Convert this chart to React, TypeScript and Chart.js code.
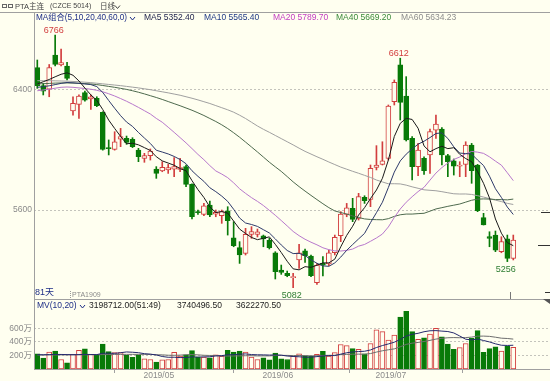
import React, { useEffect, useRef } from 'react';
import { Chart, registerables } from 'chart.js';

Chart.register(...registerables);

// ---------------- data ----------------
const dates: string[] = [
  '2019-03-28', '2019-03-29',
  '2019-04-01', '2019-04-02', '2019-04-03', '2019-04-04', '2019-04-08', '2019-04-09', '2019-04-10', '2019-04-11', '2019-04-12',
  '2019-04-15', '2019-04-16', '2019-04-17', '2019-04-18', '2019-04-19', '2019-04-22', '2019-04-23', '2019-04-24', '2019-04-25', '2019-04-26',
  '2019-04-29', '2019-04-30',
  '2019-05-06', '2019-05-07', '2019-05-08', '2019-05-09', '2019-05-10', '2019-05-13', '2019-05-14', '2019-05-15', '2019-05-16', '2019-05-17',
  '2019-05-20', '2019-05-21', '2019-05-22', '2019-05-23', '2019-05-24', '2019-05-27', '2019-05-28', '2019-05-29', '2019-05-30', '2019-05-31',
  '2019-06-03', '2019-06-04', '2019-06-05', '2019-06-06', '2019-06-10', '2019-06-11', '2019-06-12', '2019-06-13', '2019-06-14',
  '2019-06-17', '2019-06-18', '2019-06-19', '2019-06-20', '2019-06-21', '2019-06-24', '2019-06-25', '2019-06-26', '2019-06-27', '2019-06-28',
  '2019-07-01', '2019-07-02', '2019-07-03', '2019-07-04', '2019-07-05', '2019-07-08', '2019-07-09', '2019-07-10', '2019-07-11', '2019-07-12',
  '2019-07-15', '2019-07-16', '2019-07-17', '2019-07-18', '2019-07-19', '2019-07-22', '2019-07-23', '2019-07-24', '2019-07-25',
];

const opens: number[] = [
  6549, 6429, 6405, 6633, 6568, 6560, 6260, 6304, 6382, 6340,
  6344, 6251, 6011, 6004, 6073, 6078, 6071, 6000, 5944, 5962,
  5873, 5860, 5867, 5873, 5871, 5889, 5771, 5586, 5571, 5633,
  5573, 5562, 5595, 5415, 5349, 5311, 5438, 5438, 5427, 5398,
  5315, 5200, 5178, 5149, 5267, 5327, 5293, 5115, 5245, 5240,
  5315, 5429, 5571, 5611, 5544, 5684, 5671, 5884, 5904, 5944,
  6322, 6567, 6360, 6078, 5889, 5944, 5967, 6133, 6140, 5962,
  5927, 5893, 5904, 6033, 5900, 5549, 5422, 5433, 5322, 5407,
  5278,
];
const highs: number[] = [
  6600, 6444, 6570, 6766, 6673, 6584, 6355, 6367, 6393, 6367,
  6355, 6255, 6067, 6122, 6144, 6093, 6082, 6011, 5978, 6007,
  5889, 5922, 5904, 5949, 5944, 5900, 5775, 5600, 5644, 5660,
  5600, 5600, 5622, 5522, 5389, 5478, 5489, 5473, 5433, 5411,
  5322, 5233, 5193, 5178, 5371, 5340, 5300, 5244, 5290, 5333,
  5433, 5589, 5644, 5678, 5711, 5695, 5900, 6029, 6055, 6300,
  6467, 6612, 6489, 6089, 6044, 5955, 6140, 6233, 6149, 5971,
  5940, 5922, 6055, 6044, 5904, 5578, 5455, 5460, 5422, 5433,
  5433,
];
const lows: number[] = [
  6411, 6367, 6355, 6560, 6560, 6467, 6233, 6211, 6326, 6271,
  6289, 5999, 5967, 5999, 6022, 6038, 6016, 5922, 5918, 5933,
  5811, 5855, 5844, 5822, 5855, 5755, 5540, 5571, 5562, 5555,
  5555, 5511, 5433, 5355, 5244, 5300, 5411, 5420, 5355, 5340,
  5140, 5171, 5155, 5082, 5211, 5251, 5155, 5104, 5160, 5229,
  5300, 5389, 5555, 5522, 5533, 5644, 5622, 5867, 5900, 5933,
  6300, 6200, 6060, 5800, 5829, 5838, 5844, 6078, 5900, 5822,
  5833, 5822, 5822, 5778, 5589, 5500, 5355, 5322, 5315, 5256,
  5267,
];
const closes: number[] = [
  6429, 6393, 6549, 6571, 6582, 6478, 6311, 6360, 6333, 6355,
  6296, 6004, 6009, 6055, 6089, 6051, 6022, 5955, 5962, 5993,
  5844, 5884, 5882, 5889, 5882, 5771, 5555, 5582, 5627, 5567,
  5584, 5589, 5529, 5362, 5300, 5438, 5456, 5455, 5407, 5349,
  5189, 5184, 5162, 5155, 5315, 5295, 5162, 5233, 5233, 5315,
  5418, 5573, 5615, 5538, 5689, 5662, 5878, 5900, 5927, 6293,
  6451, 6318, 6067, 5889, 6000, 5862, 6122, 6173, 5967, 5922,
  5893, 5900, 6033, 5862, 5595, 5500, 5411, 5333, 5389, 5278,
  5400,
];
// volume, in 万手
const volumes: number[] = [
  225, 160, 250, 265, 140, 90, 215, 275, 295, 215,
  210, 365, 255, 240, 240, 200, 170, 210, 150, 140,
  100, 135, 140, 245, 190, 210, 270, 175, 175, 165,
  210, 185, 275, 250, 265, 250, 175, 140, 165, 135,
  235, 150, 140, 185, 225, 185, 185, 215, 260, 190,
  240, 360, 345, 300, 290, 225, 375, 575, 550, 425,
  500, 765, 850, 550, 435, 460, 515, 600, 475, 365,
  290, 315, 375, 450, 565, 245, 300, 325, 265, 335,
  320,
];

// moving-average values before each window is full
const ma5Head = [6440, 6455, 6470, 6488];
const ma10Head = [6418, 6422, 6428, 6436, 6444, 6450, 6448, 6444, 6440];
const ma20Head = [6395, 6400, 6405, 6412, 6418, 6420, 6418, 6414, 6410, 6405, 6398, 6388, 6375, 6360, 6343, 6325, 6305, 6284, 6262];
const ma40Head = [
  6440, 6442, 6444, 6446, 6447, 6447, 6446, 6445, 6443, 6440,
  6436, 6430, 6424, 6418, 6411, 6404, 6395, 6385, 6374, 6362,
  6350, 6337, 6323, 6309, 6295, 6280, 6265, 6248, 6230, 6210,
  6190, 6168, 6143, 6115, 6085, 6053, 6020, 5987, 5953,
];
const ma60Head = [
  6462, 6462, 6462, 6461, 6460, 6459, 6457, 6455, 6452, 6449,
  6445, 6441, 6437, 6433, 6429, 6424, 6419, 6414, 6408, 6402,
  6395, 6388, 6381, 6373, 6365, 6355, 6345, 6334, 6322, 6310,
  6296, 6282, 6268, 6252, 6232, 6210, 6185, 6160, 6138, 6118,
  6097, 6076, 6055, 6034, 6012, 5991, 5973, 5955, 5938, 5920,
  5903, 5886, 5872, 5858, 5845, 5831, 5817, 5800, 5787,
];
const mv10Head = [210, 210, 212, 214, 214, 212, 210, 212, 215];
const mv20Head = [205, 206, 207, 208, 208, 208, 209, 209, 210, 210, 211, 212, 213, 214, 215, 215, 215, 215, 215];

const priceTicks = [5600, 6400];
const volumeTicks = [200, 400, 600];
const axisMonths = ['2019/05', '2019/06', '2019/07'];
const highMarks = [3, 61];
const lowMarks = [43, 79];
const contractLabel = 'PTA1909';
const contractIndex = 5.5;
// short price markers on the right edge
const rightMarks = [5590, 5370];

const maLegend = [
  { text: 'MA5 5352.40', color: '#23264F' },
  { text: 'MA10 5565.40', color: '#203A86' },
  { text: 'MA20 5789.70', color: '#C23EC2' },
  { text: 'MA40 5669.20', color: '#3B8A3B' },
  { text: 'MA60 5634.23', color: '#8C8C8C' },
];
const mvLegend = ['3198712.00(51:49)', '3740496.50', '3622270.50'];

// ---------------- styles ----------------
const BG = '#FFFFF0';
const UP = '#D23E3E';
const DOWN = '#087A08';
const GRID = '#C4C4BC';
const AXIS = '#A0A0A0';
const LABEL = '#8A8A8A';
const NAVY = '#1E2E86';
const FONT = "'Liberation Sans', 'Noto Sans CJK SC', sans-serif";
const MA_COLORS = ['#1A1A1A', '#2E3A6A', '#B878CC', '#4E6A4E', '#A0A0A0'];

const X_MIN = -0.555;
const X_MAX = 86.17;

function movingAverage(values: number[], n: number, head: number[]): number[] {
  return values.map((_, i) => {
    if (i < n - 1) return head[i];
    let s = 0;
    for (let k = i - n + 1; k <= i; k++) s += values[k];
    return s / n;
  });
}

function text(ctx: CanvasRenderingContext2D, s: string, x: number, y: number, color: string, size = 8.5,
  align: CanvasTextAlign = 'left', baseline: CanvasTextBaseline = 'middle') {
  ctx.font = `${size}px ${FONT}`;
  ctx.fillStyle = color;
  ctx.textAlign = align;
  ctx.textBaseline = baseline;
  ctx.fillText(s, x, y);
}

function line(ctx: CanvasRenderingContext2D, x1: number, y1: number, x2: number, y2: number, color: string, dash: number[] = []) {
  ctx.save();
  ctx.strokeStyle = color;
  ctx.lineWidth = 1;
  ctx.setLineDash(dash);
  ctx.beginPath();
  ctx.moveTo(x1, y1);
  ctx.lineTo(x2, y2);
  ctx.stroke();
  ctx.restore();
}

function chevron(ctx: CanvasRenderingContext2D, x: number, y: number, color: string) {
  ctx.save();
  ctx.strokeStyle = color;
  ctx.lineWidth = 1;
  ctx.beginPath();
  ctx.moveTo(x, y - 1.5);
  ctx.lineTo(x + 2.5, y + 1.5);
  ctx.lineTo(x + 5, y - 1.5);
  ctx.stroke();
  ctx.restore();
}

const bgPlugin = {
  id: 'bg',
  beforeDraw(chart: any) {
    const { ctx, width, height } = chart;
    ctx.save();
    ctx.fillStyle = BG;
    ctx.fillRect(0, 0, width, height);
    ctx.restore();
  },
};

export default function App() {
  const priceRef = useRef<HTMLCanvasElement>(null);
  const volRef = useRef<HTMLCanvasElement>(null);

  useEffect(() => {
    document.body.style.margin = '0';
    Chart.defaults.font.family = FONT;

    const idx = closes.map((_, i) => i);
    const isUp = closes.map((c, i) => c >= opens[i]);
    const candleColor = isUp.map((u) => (u ? UP : DOWN));
    const fillColor = isUp.map((u) => (u ? BG : DOWN));

    const mas = [
      movingAverage(closes, 5, ma5Head),
      movingAverage(closes, 10, ma10Head),
      movingAverage(closes, 20, ma20Head),
      movingAverage(closes, 40, ma40Head),
      movingAverage(closes, 60, ma60Head),
    ];
    const mv10 = movingAverage(volumes, 10, mv10Head);
    const mv20 = movingAverage(volumes, 20, mv20Head);

    const monthIdx = axisMonths.map((m) => dates.findIndex((d) => d.slice(0, 7).replace('-', '/') === m));

    const priceDeco = {
      id: 'priceDeco',
      afterDraw(chart: any) {
        const { ctx, chartArea } = chart;
        const xs = chart.scales.x;
        const ys = chart.scales.y;
        ctx.save();
        // title bar
        line(ctx, 0, 12.5, 550, 12.5, AXIS);
        ctx.strokeStyle = '#666';
        ctx.strokeRect(2.5, 4.5, 4, 3);
        ctx.strokeRect(8.5, 4.5, 4, 3);
        text(ctx, 'PTA主连', 15, 6.5, '#444', 7.5);
        text(ctx, '(CZCE 5014)', 50, 6.5, '#444', 7);
        text(ctx, '日线', 100, 6.5, '#444', 7.5);
        chevron(ctx, 115, 7, '#444');
        // left axis line
        line(ctx, chartArea.left + 0.5, chartArea.top, chartArea.left + 0.5, chartArea.bottom, AXIS);
        // MA legend
        text(ctx, 'MA组合(5,10,20,40,60,0)', 36, 17.5, NAVY, 8.2);
        chevron(ctx, 130, 18.5, NAVY);
        const xsLegend = [144, 204, 273, 336, 401];
        maLegend.forEach((m, k) => text(ctx, m.text, xsLegend[k], 17.5, m.color));
        // extreme marks
        highMarks.forEach((i) => {
          text(ctx, String(highs[i]), xs.getPixelForValue(i) - 1.5, ys.getPixelForValue(highs[i]) - 2, UP, 9, 'center', 'alphabetic');
        });
        lowMarks.forEach((i) => {
          text(ctx, String(lows[i]), xs.getPixelForValue(i) - 1.5, ys.getPixelForValue(lows[i]) + 3, '#2E7D32', 9, 'center', 'top');
        });
        // right edge markers
        rightMarks.forEach((p, k) => {
          const y = Math.round(ys.getPixelForValue(p)) + 0.5;
          line(ctx, k === 0 ? 541 : 538, y, 550, y, '#333');
        });
        line(ctx, 545, 292.5, 550, 292.5, '#333');
        // footer of price panel
        text(ctx, `${closes.length}天`, 35, 293, NAVY, 9);
        const cx = Math.round(xs.getPixelForValue(contractIndex)) + 0.5;
        line(ctx, cx, 291, cx, 299, '#999', [1, 1]);
        text(ctx, contractLabel, cx + 1.5, 295, '#8A8A8A', 7);
        const ex = Math.round(xs.getPixelForValue(closes.length - 1.5)) + 0.5;
        line(ctx, ex, 292, ex, 299, '#777');
        ctx.restore();
      },
    };

    const volDeco = {
      id: 'volDeco',
      afterDraw(chart: any) {
        const { ctx, chartArea } = chart;
        ctx.save();
        line(ctx, chartArea.left, 0.5, 550, 0.5, AXIS);
        line(ctx, chartArea.left + 0.5, 0, chartArea.left + 0.5, chartArea.bottom, AXIS);
        // small corner marker at the right
        ctx.fillStyle = '#555';
        ctx.beginPath();
        ctx.moveTo(543, 0);
        ctx.lineTo(550, 0);
        ctx.lineTo(550, 5);
        ctx.closePath();
        ctx.fill();
        text(ctx, 'MV(10,20)', 37, 6.5, NAVY);
        chevron(ctx, 80, 7.5, NAVY);
        text(ctx, mvLegend[0], 89, 6.5, '#222');
        text(ctx, mvLegend[1], 177, 6.5, '#222');
        text(ctx, mvLegend[2], 236, 6.5, '#222');
        ctx.restore();
      },
    };

    const priceChart = new Chart(priceRef.current as HTMLCanvasElement, {
      type: 'bar',
      data: {
        datasets: [
          {
            type: 'bar',
            data: idx.map((i) => ({ x: i, y: [lows[i], highs[i]] })) as any,
            backgroundColor: candleColor,
            borderWidth: 0,
            barThickness: 1,
            grouped: false,
            order: 3,
          } as any,
          {
            type: 'bar',
            data: idx.map((i) => ({ x: i, y: [Math.min(opens[i], closes[i]), Math.max(opens[i], closes[i])] })) as any,
            backgroundColor: fillColor,
            borderColor: candleColor,
            borderWidth: 1,
            borderSkipped: false,
            barThickness: 5,
            minBarLength: 1,
            grouped: false,
            order: 2,
          } as any,
          ...mas.map((m, k) => ({
            type: 'line',
            data: idx.map((i) => ({ x: i, y: m[i] })),
            borderColor: MA_COLORS[k],
            borderWidth: 1,
            pointRadius: 0,
            tension: 0,
            fill: false,
            order: 1,
          }) as any),
        ],
      },
      options: {
        responsive: false,
        animation: false,
        devicePixelRatio: 1,
        events: [],
        layout: { padding: { top: 13, left: 0, right: 0, bottom: 0 } },
        plugins: { legend: { display: false }, tooltip: { enabled: false } },
        scales: {
          x: { type: 'linear', min: X_MIN, max: X_MAX, display: false, offset: false, bounds: 'data' },
          y: {
            type: 'linear',
            position: 'left',
            min: 5006.67,
            max: 6913.33,
            bounds: 'data',
            afterBuildTicks: (s: any) => { s.ticks = priceTicks.map((v) => ({ value: v })); },
            afterFit: (s: any) => { s.width = 34; s.paddingTop = 0; s.paddingBottom = 0; },
            ticks: { color: LABEL, font: { size: 8.5, family: FONT }, padding: 2, callback: (v: any) => String(v) },
            grid: { color: GRID, drawTicks: false, lineWidth: 1 },
            border: { display: false, dash: [2, 2] },
          },
        },
      } as any,
      plugins: [bgPlugin, priceDeco],
    });

    const volChart = new Chart(volRef.current as HTMLCanvasElement, {
      type: 'bar',
      data: {
        datasets: [
          {
            type: 'bar',
            data: idx.map((i) => ({ x: i, y: volumes[i] })) as any,
            backgroundColor: fillColor,
            borderColor: candleColor,
            borderWidth: 1,
            borderSkipped: false,
            barThickness: 5,
            grouped: false,
            order: 2,
          } as any,
          {
            type: 'line',
            data: idx.map((i) => ({ x: i, y: mv10[i] })),
            borderColor: '#262A6E',
            borderWidth: 1,
            pointRadius: 0,
            order: 1,
          } as any,
          {
            type: 'line',
            data: idx.map((i) => ({ x: i, y: mv20[i] })),
            borderColor: '#6E6E6E',
            borderWidth: 1,
            pointRadius: 0,
            order: 1,
          } as any,
        ],
      },
      options: {
        responsive: false,
        animation: false,
        devicePixelRatio: 1,
        events: [],
        layout: { padding: 0 },
        plugins: { legend: { display: false }, tooltip: { enabled: false } },
        scales: {
          x: {
            type: 'linear',
            min: X_MIN,
            max: X_MAX,
            offset: false,
            bounds: 'data',
            afterBuildTicks: (s: any) => { s.ticks = monthIdx.map((v) => ({ value: v })); },
            afterFit: (s: any) => { s.height = 12; s.paddingLeft = 0; s.paddingRight = 0; },
            ticks: {
              color: LABEL,
              font: { size: 8.5, family: FONT },
              align: 'end',
              padding: -2,
              maxRotation: 0,
              autoSkip: false,
              callback: (v: any) => {
                const k = monthIdx.indexOf(v);
                return k >= 0 ? axisMonths[k] : '';
              },
            },
            grid: { drawOnChartArea: false, drawTicks: true, tickLength: 4, color: AXIS },
            border: { display: true, color: AXIS },
          },
          y: {
            type: 'linear',
            position: 'left',
            min: 0,
            max: 1030,
            bounds: 'data',
            afterBuildTicks: (s: any) => { s.ticks = volumeTicks.map((v) => ({ value: v })); },
            afterFit: (s: any) => { s.width = 34; s.paddingTop = 0; s.paddingBottom = 0; },
            ticks: { color: LABEL, font: { size: 8.5, family: FONT }, padding: 2, callback: (v: any) => `${v}万` },
            grid: { color: GRID, drawTicks: false, lineWidth: 1 },
            border: { display: false, dash: [2, 2] },
          },
        },
      } as any,
      plugins: [bgPlugin, volDeco],
    });

    return () => {
      priceChart.destroy();
      volChart.destroy();
    };
  }, []);

  return (
    <div style={{ position: 'relative', width: 550, height: 381, background: BG, overflow: 'hidden' }}>
      <canvas ref={priceRef} width={550} height={299} style={{ position: 'absolute', left: 0, top: 0, width: 550, height: 299 }} />
      <canvas ref={volRef} width={550} height={82} style={{ position: 'absolute', left: 0, top: 299, width: 550, height: 82 }} />
    </div>
  );
}
